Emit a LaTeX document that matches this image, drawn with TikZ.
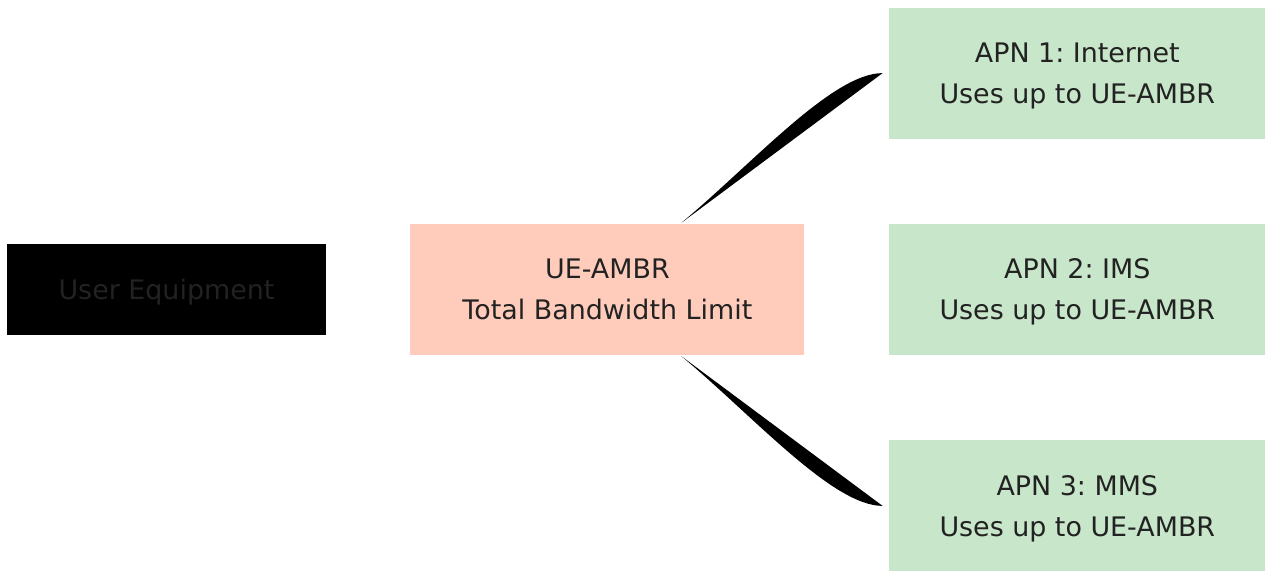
\documentclass[tikz,border=0pt]{standalone}
\usepackage{fontspec}
\setmainfont{DejaVu Sans}
\usepackage{tikz}
\usetikzlibrary{positioning,calc}
\definecolor{ueblack}{HTML}{000000}
\definecolor{ambrsalmon}{HTML}{FFCCBC}
\definecolor{apngreen}{HTML}{C8E6C9}
\definecolor{txtgrey}{HTML}{222222}
\frenchspacing

\begin{document}
\begin{tikzpicture}[x=1pt,y=-1pt,
  font=\fontsize{26.9}{41}\selectfont,
  box/.style={inner sep=0pt,align=center,text=txtgrey,minimum height=131pt,
    text depth=-4pt},
  uebox/.style={box,fill=ueblack,minimum width=319pt,minimum height=91pt},
  ambrbox/.style={box,fill=ambrsalmon,minimum width=394pt},
  apnbox/.style={box,fill=apngreen,minimum width=377pt},
  link/.style={fill=black,draw=none}]
  \useasboundingbox (0,0) rectangle (1265,574);
  \node[uebox] (ue) at (166.5,289.5) {User Equipment};
  \node[ambrbox,right=84pt of ue] (ambr) {UE-AMBR\\Total Bandwidth Limit};
  \node[apnbox,right=84pt of ambr] (apn2) {APN 2: IMS\\Uses up to UE-AMBR};
  \node[apnbox,above=85pt of apn2] (apn1) {APN 1: Internet\\Uses up to UE-AMBR};
  \node[apnbox,below=85pt of apn2] (apn3) {APN 3: MMS\\Uses up to UE-AMBR};
  \coordinate (l1s) at ($(ambr.north)+(74,-1)$);
  \coordinate (l1e) at ($(apn1.west)+(-6,0)$);
  \coordinate (l3s) at ($(ambr.south)+(74,1)$);
  \coordinate (l3e) at ($(apn3.west)+(-6,0)$);
  \fill[link] (l1s) .. controls +(72,-60) and +(-50,0) .. (l1e) -- cycle;
  \fill[link] (l3s) .. controls +(72,60) and +(-50,0) .. (l3e) -- cycle;
\end{tikzpicture}
\end{document}
